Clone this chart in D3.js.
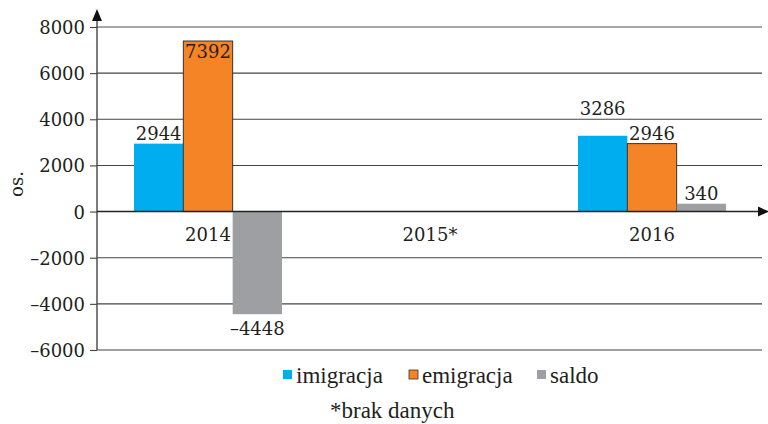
<!DOCTYPE html>
<html><head><meta charset="utf-8"><script src="https://cdn.jsdelivr.net/npm/d3@7"></script></head>
<body style="margin:0">
<svg id="c" width="768" height="424"></svg>
<script>
const years = ["2014","2015*","2016"];
const seriesNames = ["imigracja","emigracja","saldo"];
const imigracja = [2944, null, 3286];
const emigracja = [7392, null, 2946];
const saldo = [-4448, null, 340];
const yTicks = [-6000,-4000,-2000,0,2000,4000,6000,8000];
const colors = ["#00aeef","#f58426","#9d9fa2"];
const footnote = "*brak danych";
const yLabel = "os.";

const svg = d3.select("#c");
const ink = "#231f20";
const numFont = `"DejaVu Serif"`;
const legFont = `"Liberation Serif"`;

const x0 = 97, x1 = 763, yTop = 27, yBot = 350;
const y = d3.scaleLinear().domain([-6000, 8000]).range([yBot, yTop]);
const x = d3.scaleBand().domain(years).range([x0, x1]).padding(0);
const xs = d3.scaleBand().domain(seriesNames).range([37, 185]);

// gridlines
svg.append("g").selectAll("line").data(yTicks.filter(d => d !== 0)).join("line")
  .attr("x1", x0).attr("x2", 762)
  .attr("y1", d => y(d)).attr("y2", d => y(d))
  .attr("stroke", d => d === 8000 ? "#8a8a8a" : "#444")
  .attr("stroke-width", d => d === 8000 ? 1.6 : 1.1);

// y axis
const yAxis = d3.axisLeft(y).tickValues(yTicks).tickSize(7).tickPadding(5)
  .tickFormat(d => d < 0 ? "\u2013" + Math.abs(d) : d);
const ga = svg.append("g").attr("transform", `translate(${x0},0)`).call(yAxis);
ga.attr("font-family", null).attr("font-size", null);
ga.select(".domain").remove();
ga.selectAll(".tick line").attr("stroke", "#444").attr("stroke-width", 1.1);
ga.selectAll(".tick text").style("font-family", numFont).attr("font-size", 18)
  .attr("fill", ink).attr("dy", "0.36em");
svg.append("line").attr("x1", x0).attr("x2", x0).attr("y1", 18).attr("y2", yBot)
  .attr("stroke", "#444").attr("stroke-width", 1.4);
svg.append("path").attr("d", `M${x0-5},${21} L${x0+5},${21} L${x0},${9} Z`).attr("fill", "#111");

svg.append("text").attr("transform", `translate(23,184) rotate(-90)`)
  .attr("text-anchor", "middle").style("font-family", numFont).attr("font-size", 18)
  .attr("fill", ink).text(yLabel);

// bars
const data = [];
years.forEach((yr, i) => {
  [imigracja, emigracja, saldo].forEach((arr, j) => {
    if (arr[i] != null) data.push({yr, s: seriesNames[j], v: arr[i], j});
  });
});
svg.append("g").selectAll("rect").data(data).join("rect")
  .attr("x", d => x(d.yr) + xs(d.s))
  .attr("width", xs.bandwidth())
  .attr("y", d => y(Math.max(0, d.v)))
  .attr("height", d => Math.abs(y(d.v) - y(0)))
  .attr("fill", d => colors[d.j])
  .attr("stroke", d => d.j === 1 ? "#333" : "none")
  .attr("stroke-width", 1);

// x axis line
svg.append("line").attr("x1", x0).attr("x2", 762).attr("y1", y(0)).attr("y2", y(0))
  .attr("stroke", "#222").attr("stroke-width", 1.4);
svg.append("path").attr("d", `M${758},${y(0)-5} L${758},${y(0)+5} L${769},${y(0)} Z`).attr("fill", "#111");

// category labels
svg.append("g").selectAll("text").data(years).join("text")
  .attr("x", d => x(d) + x.bandwidth()/2)
  .attr("y", y(0) + 29)
  .attr("text-anchor", "middle").style("font-family", numFont).attr("font-size", 18)
  .attr("fill", ink).text(d => d);

// value labels
function labelY(d) {
  if (d.v < 0) return y(d.v) + 21;
  if (d.v > 7000) return y(d.v) + 17;
  if (d.yr === "2016" && d.j === 0) return y(d.v) - 21;
  return y(d.v) - 4;
}
svg.append("g").selectAll("text").data(data).join("text")
  .attr("x", d => x(d.yr) + xs(d.s) + xs.bandwidth()/2)
  .attr("y", labelY)
  .attr("text-anchor", "middle").style("font-family", numFont).attr("font-size", 18)
  .attr("fill", ink).text(d => d.v < 0 ? "\u2013" + Math.abs(d.v) : d.v);

// legend
const legX = [283, 409, 537];
const lg = svg.append("g");
seriesNames.forEach((s, j) => {
  lg.append("rect").attr("x", legX[j]).attr("y", 370).attr("width", 9).attr("height", 9)
    .attr("fill", colors[j]).attr("stroke", j === 1 ? "#333" : "none").attr("stroke-width", 0.8);
  lg.append("text").attr("x", legX[j] + 13).attr("y", 383)
    .style("font-family", legFont).attr("font-size", 23).attr("fill", ink).text(s);
});
svg.append("text").attr("x", 330).attr("y", 418).style("font-family", legFont)
  .attr("font-size", 23).attr("fill", ink).text(footnote);
</script>
</body></html>
